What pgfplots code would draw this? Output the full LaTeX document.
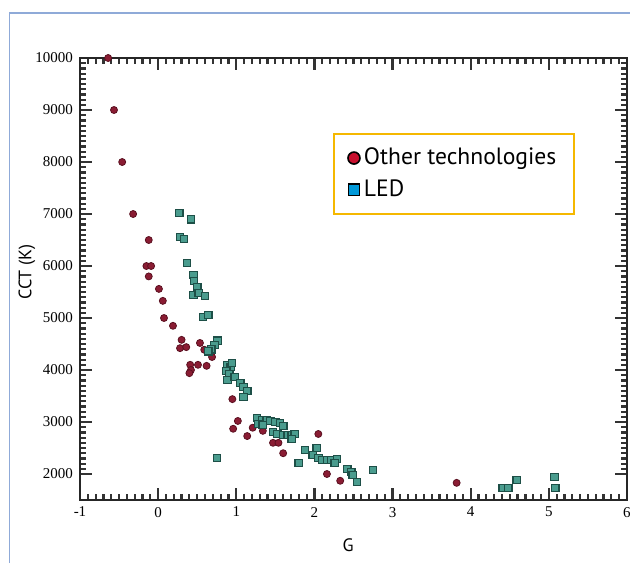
\documentclass[border=0pt]{standalone}
\usepackage{fontspec}
\setmainfont{PT Sans}
\newfontfamily\tickfont{Liberation Serif}
\usepackage{pgfplots}
\pgfplotsset{compat=1.18}
\definecolor{redfill}{HTML}{8A1C33}
\definecolor{reddraw}{HTML}{5A1020}
\definecolor{ledfill}{HTML}{4A9C8E}
\definecolor{leddraw}{HTML}{1D4F47}
\definecolor{legred}{HTML}{C8102E}
\definecolor{legblue}{HTML}{0098D8}
\definecolor{legorange}{HTML}{F5B800}
\definecolor{framecol}{HTML}{8FAAD8}
\begin{document}
\begin{tikzpicture}
\path[use as bounding box] (-40pt,-31.5pt) rectangle (275pt,250pt);
\draw[framecol, line width=0.8pt] (-35.25pt,-31.5pt) -- (-35.25pt,243.5pt) -- (275pt,243.5pt);
\begin{axis}[
  at={(0,0)}, anchor=south west,
  scale only axis, width=273.5pt, height=221pt,
  xmin=-1, xmax=6, ymin=1500, ymax=10000,
  xtick={-1,0,1,2,3,4,5,6},
  ytick={2000,3000,4000,5000,6000,7000,8000,9000,10000},
  scaled y ticks=false,
  minor x tick num=9, minor y tick num=9,
  tick align=inside,
  major tick length=6pt, minor tick length=3pt,
  axis line style={black!85, line width=0.8pt},
  tick style={black!80, line width=1.1pt},
  /pgf/number format/assume math mode=true,
  /pgf/number format/1000 sep={},
  ticklabel style={font=\tickfont\fontsize{7.5}{8}\selectfont},
  xlabel={G}, ylabel={CCT (K)},
  label style={font=\fontsize{9}{10}\selectfont},
  xlabel style={at={(axis description cs:0.49,0)}, anchor=center, yshift=-22.5pt},
  ylabel style={at={(axis description cs:0,0.516)}, anchor=center, rotate=0, yshift=26.5pt},
  legend style={at={(0.4625,0.830)}, anchor=north west, draw=legorange, line width=1pt,
    font=\fontsize{11.8}{13}\selectfont, inner xsep=7pt, inner ysep=5pt, row sep=2pt},
  legend cell align=left,
]
\addlegendimage{only marks, mark=*, mark size=3pt, mark options={fill=legred, draw=black, line width=0.8pt}}
\addlegendentry{Other technologies}
\addlegendimage{only marks, mark=square*, mark size=2.8pt, mark options={fill=legblue, draw=black, line width=0.8pt}}
\addlegendentry{LED}
\addplot[forget plot, only marks, mark=*, mark size=1.75pt, mark options={fill=redfill, draw=reddraw, line width=0.4pt}] coordinates {
(-0.64,10000) (-0.565,9000) (-0.46,8000) (-0.32,7000) (-0.12,6500)
(-0.15,6000) (-0.09,6000) (-0.12,5800) (0.01,5560) (0.06,5330)
(0.075,5000) (0.19,4850) (0.30,4580) (0.28,4420) (0.36,4440)
(0.41,4100) (0.42,4000) (0.40,3940) (0.51,4100) (0.535,4520)
(0.59,4390) (0.69,4250) (0.62,4080) (0.95,3440) (1.02,3020)
(0.96,2870) (1.14,2730) (1.21,2890) (1.34,2830) (1.47,2600)
(1.54,2600) (1.60,2400) (2.05,2770) (2.16,2000) (2.33,1870)
(3.82,1830)
};
\addplot[forget plot, only marks, mark=square*, mark size=1.9pt, mark options={fill=ledfill, draw=leddraw, line width=0.6pt}] coordinates {
(0.27,7020) (0.42,6900) (0.28,6558) (0.33,6519) (0.37,6058)
(0.45,5827) (0.46,5712) (0.50,5596) (0.45,5442) (0.52,5481)
(0.60,5423) (0.574,5019) (0.64,5058) (0.76,4560) (0.72,4480)
(0.68,4400) (0.64,4360) (0.88,4096) (0.93,4058) (0.87,3981)
(0.91,3923) (0.89,3808) (0.98,3865) (0.945,4135) (1.05,3750)
(1.09,3673) (1.14,3596) (1.09,3481) (1.265,3077) (1.33,3038)
(1.39,3038) (1.44,3019) (1.50,3000) (1.56,2981) (1.60,2923)
(1.28,2962) (1.34,2942) (1.47,2808) (1.53,2769) (1.60,2750)
(1.66,2750) (1.71,2750) (1.75,2769) (1.71,2673) (1.88,2462)
(2.03,2500) (1.80,2212) (1.98,2366) (2.05,2308) (2.10,2269)
(2.16,2269) (2.22,2269) (2.29,2288) (2.26,2212) (2.42,2096)
(2.47,2038) (2.49,1981) (2.545,1846) (2.75,2077) (0.753,2308)
(4.41,1731) (4.48,1731) (4.59,1885) (5.07,1942) (5.08,1731)
};
\end{axis}
\end{tikzpicture}
\end{document}
